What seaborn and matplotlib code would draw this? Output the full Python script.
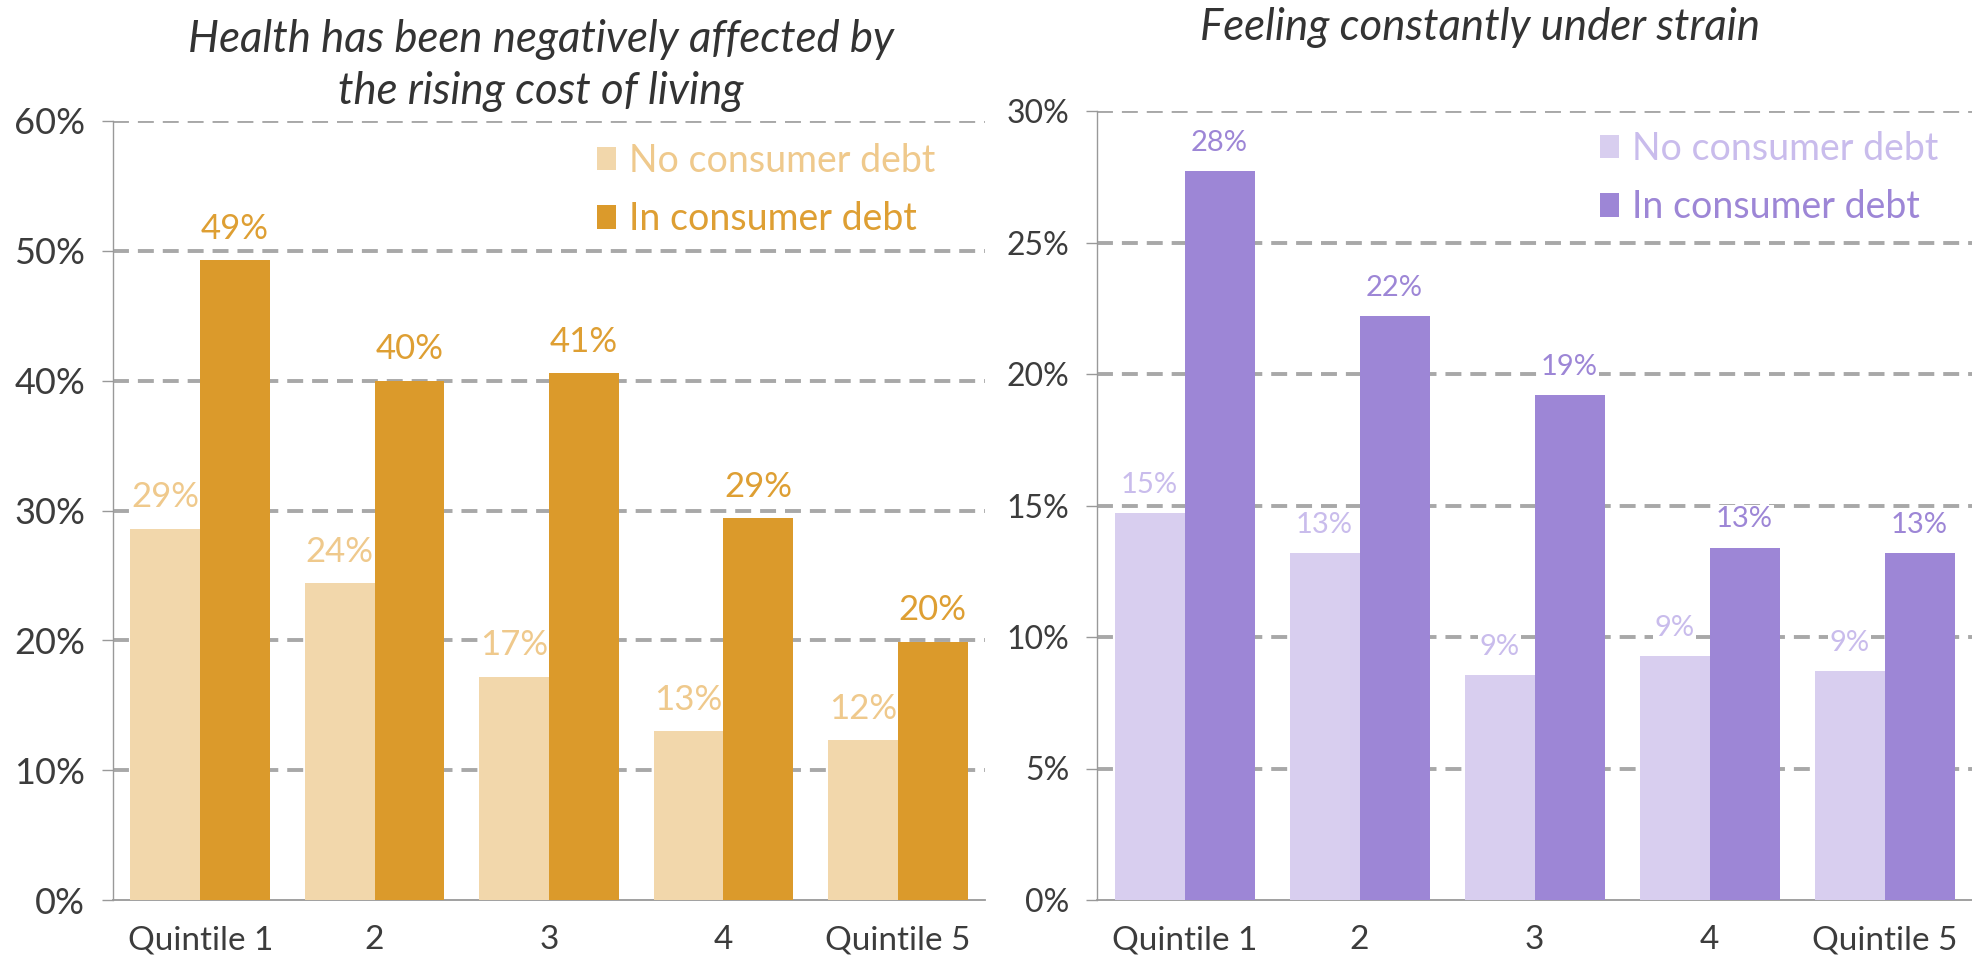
import matplotlib
matplotlib.use("Agg")
import matplotlib.pyplot as plt
import seaborn as sns
import pandas as pd
from matplotlib.patches import Patch

quintiles = ["Quintile 1", "2", "3", "4", "Quintile 5"]
groups = ["No consumer debt", "In consumer debt"]

# health negatively affected by cost of living (%)
health_no_debt = [28.6, 24.4, 17.2, 13.0, 12.3]
health_in_debt = [49.3, 40.0, 40.6, 29.4, 19.9]

# feeling constantly under strain (%)
strain_no_debt = [14.7, 13.2, 8.55, 9.27, 8.7]
strain_in_debt = [27.7, 22.2, 19.2, 13.4, 13.2]

orange = ["#F2D7AB", "#DB9A2B"]
orange_txt = ["#EFC98C", "#DE9F33"]
purple = ["#D8CEEF", "#9D86D6"]
purple_txt = ["#C9BCEC", "#9D86D6"]

sns.set_style("white")
plt.rcParams["font.family"] = ["Lato", "DejaVu Sans"]


def make_df(no_debt, in_debt):
    return pd.DataFrame({
        "quintile": quintiles * 2,
        "group": [groups[0]] * 5 + [groups[1]] * 5,
        "value": no_debt + in_debt,
    })


def draw_panel(ax, df, colors, txt_colors, ymax, step, label_size, ytick_size):
    sns.barplot(data=df, x="quintile", y="value", hue="group", hue_order=groups,
                palette=colors, saturation=1, width=0.8, ax=ax, legend=False,
                linewidth=0, edgecolor="none", zorder=3)
    for cont, tc in zip(ax.containers, txt_colors):
        labs = ax.bar_label(cont, labels=[f"{v:.0f}%" for v in cont.datavalues],
                            color=tc, fontsize=label_size, padding=11)
        # white box hides the gridline behind the label, bars stay on top
        for t in labs:
            t.set_zorder(2)
            t.set_bbox(dict(facecolor="white", edgecolor="none", pad=1))
    ax.set_ylim(0, ymax)
    ax.set_xlim(-0.5, 4.5)
    ticks = list(range(0, ymax + 1, step))
    ax.set_yticks(ticks)
    ax.set_yticklabels([f"{t}%" for t in ticks])
    for t in ticks[1:]:
        ax.axhline(t, color="#A8A8A8", lw=2.8, ls=(0, (4.1, 2.3)), zorder=1)
    ax.set_xlabel("")
    ax.set_ylabel("")
    for s in ["top", "right"]:
        ax.spines[s].set_visible(False)
    ax.spines["left"].set_color("#999999")
    ax.spines["bottom"].set_color("#999999")
    ax.spines["left"].set_linewidth(1)
    ax.spines["bottom"].set_linewidth(1.3)
    ax.tick_params(axis="y", length=8, color="#999999", width=1, pad=12,
                   labelsize=ytick_size, labelcolor="#3c3c3c", left=True)
    ax.tick_params(axis="x", length=0, pad=18, labelsize=24, labelcolor="#3c3c3c")
    handles = [Patch(facecolor=c, edgecolor="none") for c in colors]
    leg = ax.legend(handles, groups, loc="upper left", frameon=False,
                    fontsize=27, handlelength=0.5, handleheight=0.6,
                    handletextpad=0.35, labelspacing=0.6,
                    borderaxespad=0, borderpad=0)
    for txt, c in zip(leg.get_texts(), txt_colors):
        txt.set_color(c)
    return leg


fig = plt.figure(figsize=(19.72, 9.58), dpi=100)
ax1 = fig.add_axes([113 / 1972, 58 / 958, 872 / 1972, 779 / 958])
ax2 = fig.add_axes([1097 / 1972, 58 / 958, 875 / 1972, 789 / 958])

leg1 = draw_panel(ax1, make_df(health_no_debt, health_in_debt), orange, orange_txt, 60, 10, 25, 26)
leg1.set_bbox_to_anchor((0.555, 0.972), transform=ax1.transAxes)
leg2 = draw_panel(ax2, make_df(strain_no_debt, strain_in_debt), purple, purple_txt, 30, 5, 21, 23)
leg2.set_bbox_to_anchor((0.575, 0.975), transform=ax2.transAxes)

title_kw = dict(ha="center", va="center", fontsize=31.5, style="italic", color="#333333")
fig.text(541 / 1972, 1 - 40 / 958, "Health has been negatively affected by", **title_kw)
fig.text(541 / 1972, 1 - 92 / 958, "the rising cost of living", **title_kw)
fig.text(1480 / 1972, 1 - 28 / 958, "Feeling constantly under strain", **title_kw)

fig.savefig("out.png", dpi=100, facecolor="white")
